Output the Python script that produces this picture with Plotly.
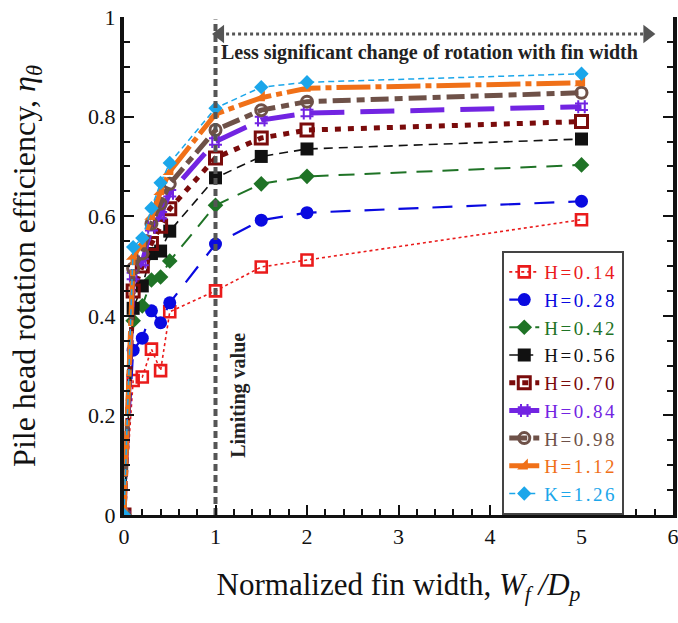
import plotly.graph_objects as go

# Normalized fin width W_f / D_p
fin_width = [0, 0.1, 0.2, 0.3, 0.4, 0.5, 1, 1.5, 2, 5]

# Pile head rotation efficiency for each load height
eta_h014 = [0, 0.270, 0.277, 0.333, 0.290, 0.408, 0.450, 0.498, 0.512, 0.593]
eta_h028 = [0, 0.331, 0.355, 0.410, 0.386, 0.426, 0.544, 0.592, 0.607, 0.630]
eta_h042 = [0, 0.390, 0.420, 0.472, 0.478, 0.510, 0.622, 0.665, 0.680, 0.703]
eta_h056 = [0, 0.415, 0.460, 0.525, 0.530, 0.570, 0.677, 0.720, 0.735, 0.755]
eta_h070 = [0, 0.450, 0.500, 0.545, 0.580, 0.615, 0.717, 0.757, 0.773, 0.790]
eta_h084 = [0, 0.480, 0.508, 0.578, 0.602, 0.646, 0.750, 0.793, 0.807, 0.820]
eta_h098 = [0, 0.495, 0.525, 0.585, 0.625, 0.665, 0.773, 0.813, 0.830, 0.848]
eta_h112 = [0, 0.520, 0.545, 0.600, 0.650, 0.690, 0.805, 0.838, 0.857, 0.868]
eta_k126 = [0, 0.538, 0.556, 0.616, 0.667, 0.707, 0.817, 0.859, 0.869, 0.886]

series_names = ["H=0.14", "H=0.28", "H=0.42", "H=0.56", "H=0.70",
                "H=0.84", "H=0.98", "H=1.12", "K=1.26"]
series_values = [eta_h014, eta_h028, eta_h042, eta_h056, eta_h070,
                 eta_h084, eta_h098, eta_h112, eta_k126]

limit_x = [1, 1]
limit_y = [0, 0.995]
arrow_x = [1.05, 5.72]
arrow_y = [0.966, 0.966]

SERIF = "Liberation Serif, Times New Roman, serif"

styles = [
    dict(color="#ea1b1b", dash="3px,3px", width=1.6, symbol="square-open", size=11, lw=2.6),
    dict(color="#0a0ae0", dash="20px,14px", width=2.2, symbol="circle", size=13, lw=0),
    dict(color="#1f7326", dash="16px,10px", width=2.0, symbol="diamond", size=12, lw=0),
    dict(color="#111111", dash="9px,6px", width=1.6, symbol="square", size=13, lw=0),
    dict(color="#7a0b0b", dash="6px,7px", width=5, symbol="square-open", size=12, lw=3),
    dict(color="#7224e2", dash="34px,16px", width=5, symbol="hash", size=13, lw=2),
    dict(color="#6e5148", dash="18px,6px,8px,6px", width=5, symbol="circle-open", size=11, lw=3),
    dict(color="#f07018", dash="34px,5px,6px,5px", width=5, symbol="triangle-se", size=12, lw=0),
    dict(color="#1ba6ea", dash="6px,4px", width=1.5, symbol="diamond", size=11, lw=0),
]

fig = go.Figure()

for name, vals, st in zip(series_names, series_values, styles):
    marker = dict(symbol=st["symbol"], size=st["size"], color=st["color"])
    if st["lw"]:
        marker["line"] = dict(color=st["color"], width=st["lw"])
    fig.add_trace(go.Scatter(
        x=fin_width, y=vals, mode="lines+markers",
        name=f"<span style='color:{st['color']};letter-spacing:2.5px'>{name}</span>",
        line=dict(color=st["color"], dash=st["dash"], width=st["width"]),
        marker=marker,
    ))

# Limiting value marker line at W_f/D_p = 1
fig.add_trace(go.Scatter(
    x=limit_x, y=limit_y, mode="lines", showlegend=False, hoverinfo="skip",
    line=dict(color="#555555", dash="7px,4px", width=4),
))

# Double-headed arrow over the plateau region
fig.add_trace(go.Scatter(
    x=arrow_x, y=arrow_y, mode="lines+markers", showlegend=False, hoverinfo="skip",
    line=dict(color="#555555", dash="dot", width=3),
    marker=dict(symbol=["triangle-left", "triangle-right"], size=16, color="#555555"),
))

fig.add_annotation(
    x=3.34, y=0.928, xref="x", yref="y", showarrow=False,
    text="<b>Less significant change of rotation with fin width</b>",
    font=dict(family=SERIF, size=20, color="#222222"),
)
fig.add_annotation(
    x=1.25, y=0.24, xref="x", yref="y", showarrow=False, textangle=-90,
    text="<b>Limiting value</b>",
    font=dict(family=SERIF, size=20, color="#222222"),
)

fig.update_layout(
    width=678, height=623,
    margin=dict(l=124, r=5, t=17, b=108),
    paper_bgcolor="white", plot_bgcolor="white",
    font=dict(family=SERIF, size=22, color="#111111"),
    legend=dict(
        x=0.689, y=0.530, xanchor="left", yanchor="top",
        bgcolor="white", bordercolor="#444444", borderwidth=2,
        font=dict(family=SERIF, size=19),
        tracegroupgap=0,
    ),
    xaxis=dict(
        range=[0, 6], dtick=1, tick0=0,
        ticks="inside", ticklen=10, tickwidth=2, tickcolor="#111111",
        minor=dict(dtick=0.2, ticks="inside", ticklen=6, tickwidth=1.5, tickcolor="#111111"),
        showline=True, linecolor="#111111", linewidth=3,
        showgrid=False, zeroline=False, ticklabeloverflow="allow",
        tickfont=dict(family=SERIF, size=22),
        title=dict(text="Normalized fin width, <i>W</i><sub><i>f</i></sub><i> /D</i><sub><i>p</i></sub>",
                   font=dict(family=SERIF, size=31), standoff=25),
        automargin=False,
    ),
    yaxis=dict(
        range=[0, 1], dtick=0.2, tick0=0,
        ticks="inside", ticklen=10, tickwidth=2, tickcolor="#111111",
        minor=dict(dtick=0.05, ticks="inside", ticklen=6, tickwidth=1.5, tickcolor="#111111"),
        showline=True, linecolor="#111111", linewidth=4, mirror="ticks",
        showgrid=False, zeroline=False,
        tickfont=dict(family=SERIF, size=22),
        title=dict(text="Pile head rotation efficiency, <i>η</i><sub><i>θ</i></sub>",
                   font=dict(family=SERIF, size=32), standoff=44),
        automargin=False,
    ),
)

fig.write_html("out.html")
